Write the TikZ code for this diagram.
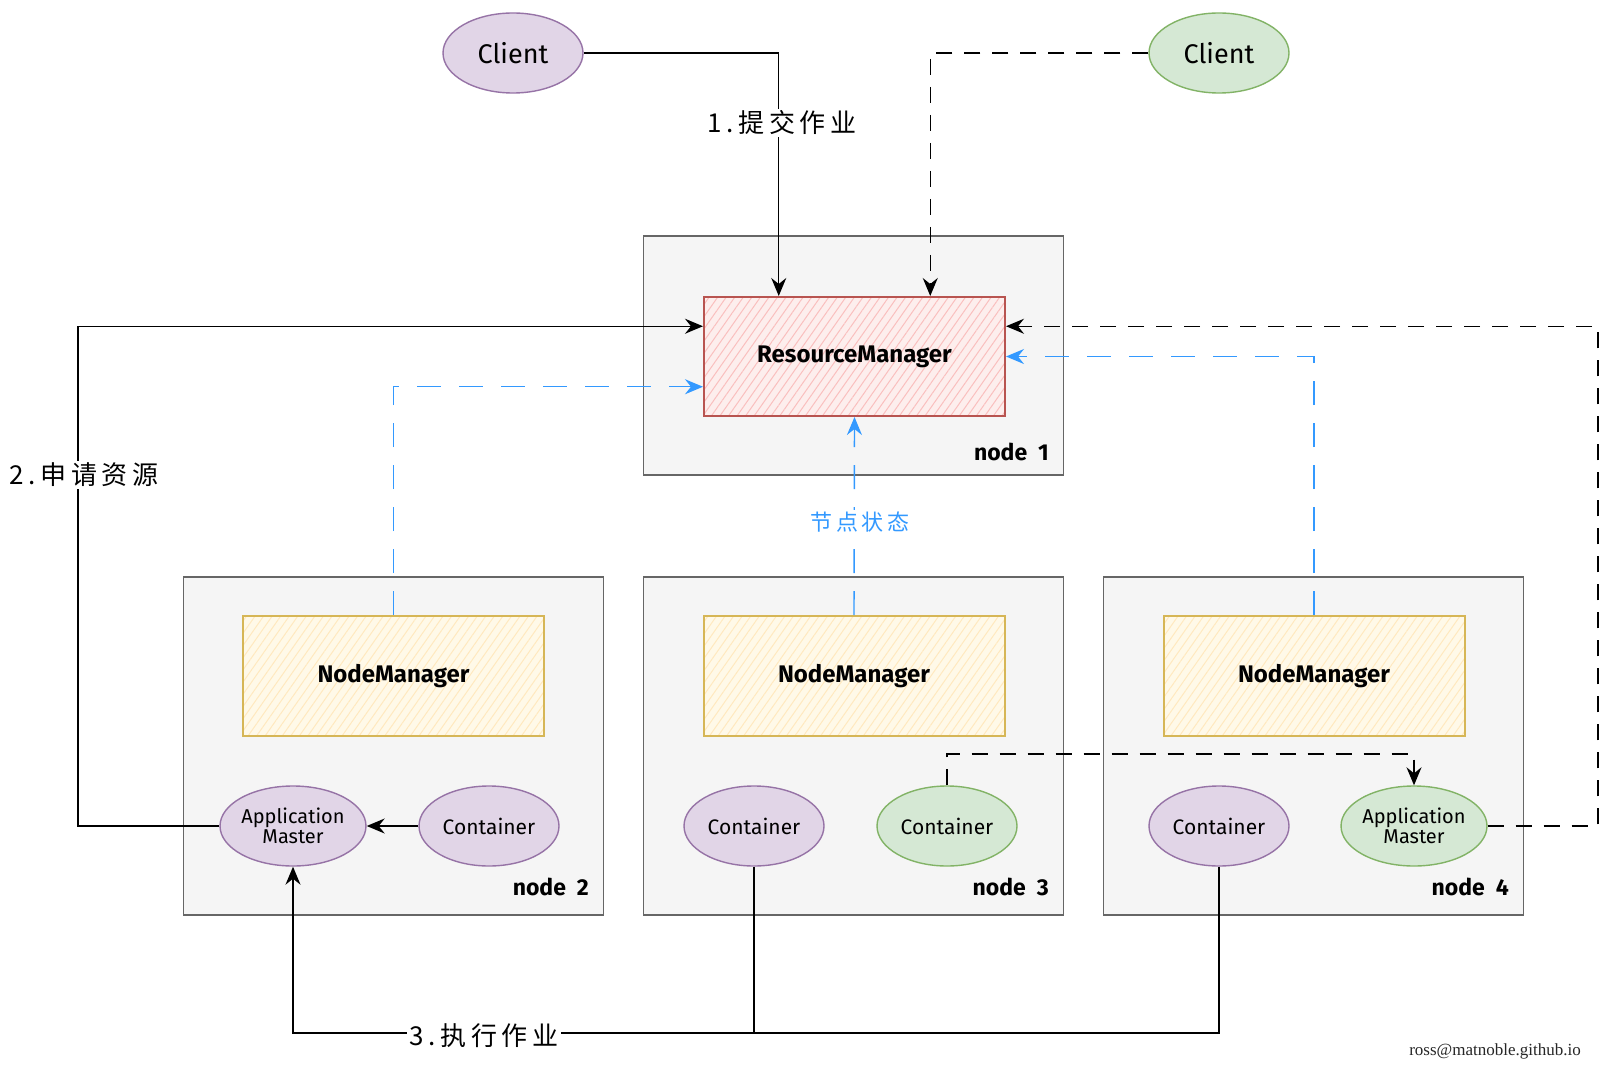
\documentclass[tikz,border=0pt]{standalone}
\usepackage{fontspec}
\setmainfont{Fira Sans}
\newfontfamily\cjk[LetterSpace=18]{Noto Sans CJK SC}
\newfontfamily\markfont{Liberation Serif}
\usetikzlibrary{calc,arrows.meta,patterns.meta,shapes.geometric}

\definecolor{hostfill}{HTML}{F5F5F5}
\definecolor{hostline}{HTML}{666666}
\definecolor{rmfill}{HTML}{F8CECC}
\definecolor{rmline}{HTML}{B85450}
\definecolor{nmfill}{HTML}{FFF2CC}
\definecolor{nmline}{HTML}{D6B656}
\definecolor{purfill}{HTML}{E1D5E7}
\definecolor{purline}{HTML}{9673A6}
\definecolor{grnfill}{HTML}{D5E8D4}
\definecolor{grnline}{HTML}{82B366}
\definecolor{statblue}{HTML}{3399FF}

\tikzset{
  host/.style={draw=hostline,fill=hostfill,line width=1.6pt,minimum width=420pt,inner sep=0pt},
  rmbox/.style={draw=rmline,line width=2pt,minimum width=301pt,minimum height=119pt,
    preaction={fill=rmfill!35},
    preaction={pattern={Lines[angle=55,distance=7pt,line width=1pt]},pattern color=rmfill!85!red!80},
    font=\fontsize{24}{26}\selectfont\bfseries},
  nmbox/.style={draw=nmline,line width=2pt,minimum width=301pt,minimum height=120pt,
    preaction={fill=nmfill!45},
    preaction={pattern={Lines[angle=55,distance=7pt,line width=1pt]},pattern color=nmfill!90!orange!90},
    font=\fontsize{24}{26}\selectfont\bfseries},
  proc/.style={ellipse,draw=purline,fill=purfill,line width=1.4pt,minimum width=140pt,minimum height=80pt,
    inner sep=0pt,align=center,font=\fontsize{21}{23}\selectfont},
  procg/.style={proc,draw=grnline,fill=grnfill},
  tag/.style={anchor=east,font=\fontsize{23}{25}\selectfont\bfseries},
  lbl/.style={fill=white,inner sep=2pt,font=\cjk\fontsize{26}{28}\selectfont},
  link/.style={line width=1.4pt,-{Stealth[length=18pt,width=15pt,inset=6pt]}},
  dlink/.style={link,dash pattern=on 16pt off 12pt},
  blink/.style={link,statblue,dash pattern=on 24pt off 18pt},
}

\begin{document}
\begin{tikzpicture}[x=1pt,y=-1pt]
  \useasboundingbox[fill=white] (0,0) rectangle (1609,1078);

  % hosts
  \node[host,minimum height=239pt] (node1) at (853.5,355.5) {};
  \node[host,minimum height=338pt] (node2) at (393.5,746) {};
  \node[host,minimum height=338pt] (node3) at (853.5,746) {};
  \node[host,minimum height=338pt] (node4) at (1313.5,746) {};
  \node[tag] at ($(node1.south east)+(-12,-24)$) {node\ \ 1};
  \node[tag] at ($(node2.south east)+(-12,-29)$) {node\ \ 2};
  \node[tag] at ($(node3.south east)+(-12,-29)$) {node\ \ 3};
  \node[tag] at ($(node4.south east)+(-12,-29)$) {node\ \ 4};

  % managers
  \node[rmbox] (rm) at (854.5,356.5) {ResourceManager};
  \node[nmbox] (nm2) at (393.5,676) {NodeManager};
  \node[nmbox] (nm3) at (854,676) {NodeManager};
  \node[nmbox] (nm4) at (1314,676) {NodeManager};

  % clients and containers
  \node[proc,font=\fontsize{27}{29}\selectfont] (cl1) at (513,53) {Client};
  \node[procg,font=\fontsize{27}{29}\selectfont] (cl2) at (1219,53) {Client};
  \node[proc,font=\fontsize{20}{22}\selectfont] (am2) at (293,826) {Application\\[-2pt]Master};
  \node[proc] (c2) at (489,826) {Container};
  \node[proc] (c3) at (754,826) {Container};
  \node[procg] (c3g) at (947,826) {Container};
  \node[proc] (c4) at (1219,826) {Container};
  \node[procg,font=\fontsize{20}{22}\selectfont] (am4) at (1414,826) {Application\\[-2pt]Master};

  % anchor points on ResourceManager
  \coordinate (rmn1) at ($(rm.north west)!0.25!(rm.north east)$);
  \coordinate (rmn2) at ($(rm.north west)!0.75!(rm.north east)$);
  \coordinate (rmw1) at ($(rm.north west)!0.25!(rm.south west)$);
  \coordinate (rmw3) at ($(rm.north west)!0.75!(rm.south west)$);
  \coordinate (rme1) at ($(rm.north east)!0.25!(rm.south east)$);
  \coordinate (busL) at (78,0);
  \coordinate (busR) at (1598,0);
  \coordinate (busM) at (0,754);
  \coordinate (busB) at (0,1033);

  % 1. submit
  \draw[link] (cl1.east) -| (rmn1);
  \node[lbl] at (782,123) {1.提交作业};
  \draw[dlink] (cl2.west) -| (rmn2);

  % 2. request resources
  \draw[link] (am2.west) -- (am2.west -| busL) |- (rmw1);
  \node[lbl] at (84,475) {2.申请资源};
  \draw[link] (c2.west) -- (am2.east);

  % node status
  \draw[blink] (nm2.north) |- (rmw3);
  \draw[blink] (nm3.north) -- (rm.south);
  \draw[blink] (nm4.north) |- (rm.east);
  \node[lbl,text=statblue,font=\cjk\fontsize{22}{24}\selectfont] at (860,522) {节点状态};

  % application master of node 4
  \draw[dlink] (c3g.north) -- (c3g.north |- busM) -| (am4.north);
  \draw[dlink] (am4.east) -- (am4.east -| busR) |- (rme1);

  % 3. run job
  \draw[link] (c4.south) |- (am2.south |- busB) -- (am2.south);
  \draw[line width=1.4pt] (c3.south) -- (c3.south |- busB);
  \node[lbl] at (484,1036) {3.执行作业};

  \node[font=\markfont\fontsize{17}{19}\selectfont,text=black!85] (mark) at (1495,1051) {ross@matnoble.github.io};
\end{tikzpicture}
\end{document}
